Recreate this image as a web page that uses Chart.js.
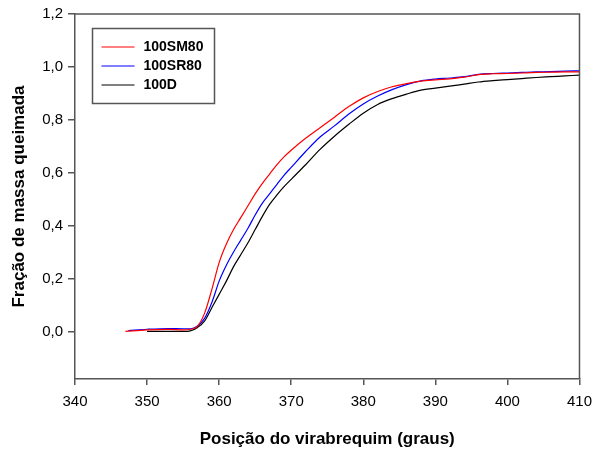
<!DOCTYPE html>
<html>
<head>
<meta charset="utf-8">
<script src="https://cdn.jsdelivr.net/npm/chart.js@4"></script>
<style>
  html, body { margin: 0; padding: 0; background: #fff; }
  #wrap { width: 600px; height: 450px; }
</style>
</head>
<body>
<div id="wrap"><canvas id="burnChart" width="600" height="450"></canvas></div>
<script>
// crank angle (deg) and burned mass fraction
const angSM80 = [347, 350, 353, 355, 356, 357, 358, 359, 360, 361, 362, 363, 364, 365, 366, 367, 368, 369, 370, 372, 374, 376, 378, 380, 382, 384, 386, 388, 390, 392, 394, 396, 398, 400, 402, 404, 406, 408, 410];
const fracSM80 = [0.0, 0.006, 0.008, 0.006, 0.008, 0.02, 0.07, 0.16, 0.26, 0.33, 0.385, 0.43, 0.475, 0.52, 0.56, 0.595, 0.63, 0.66, 0.685, 0.73, 0.77, 0.81, 0.85, 0.883, 0.907, 0.925, 0.937, 0.946, 0.951, 0.955, 0.961, 0.971, 0.974, 0.975, 0.977, 0.979, 0.980, 0.981, 0.981];

const angSR80 = [347.4, 350, 353, 355, 356, 357, 358, 359, 360, 361, 362, 363, 364, 365, 366, 367, 368, 369, 370, 372, 374, 376, 378, 380, 382, 384, 386, 388, 390, 392, 394, 396, 398, 400, 402, 404, 406, 408, 410];
const fracSR80 = [0.003, 0.008, 0.011, 0.01, 0.01, 0.02, 0.05, 0.11, 0.19, 0.25, 0.30, 0.345, 0.39, 0.44, 0.485, 0.52, 0.555, 0.59, 0.62, 0.68, 0.735, 0.777, 0.822, 0.86, 0.89, 0.914, 0.933, 0.947, 0.954, 0.958, 0.963, 0.972, 0.975, 0.977, 0.979, 0.981, 0.982, 0.984, 0.985];

const angD = [350, 353, 355, 356, 357, 358, 359, 360, 361, 362, 363, 364, 365, 366, 367, 368, 369, 370, 372, 374, 376, 378, 380, 382, 384, 386, 388, 390, 392, 394, 396, 398, 400, 402, 404, 406, 408, 410];
const fracD = [0.0, 0.0, 0.0, 0.002, 0.015, 0.04, 0.09, 0.14, 0.19, 0.245, 0.29, 0.335, 0.385, 0.435, 0.48, 0.515, 0.547, 0.575, 0.63, 0.688, 0.738, 0.783, 0.825, 0.858, 0.88, 0.897, 0.912, 0.92, 0.927, 0.935, 0.943, 0.948, 0.952, 0.956, 0.96, 0.963, 0.966, 0.969];

const seriesNames = ['100SM80', '100SR80', '100D'];
const seriesColors = ['#ff0000', '#0000ff', '#000000'];
const xTicks = [340, 350, 360, 370, 380, 390, 400, 410];
const yTicks = [0, 0.2, 0.4, 0.6, 0.8, 1.0, 1.2];

const axisColor = '#555555';
const fontFamily = '"Liberation Sans", Arial, sans-serif';

function pairs(xs, ys) {
  return xs.map((x, i) => ({ x: x, y: ys[i] }));
}

// box round the plot and the legend drawn in the top-left corner
const framePlugin = {
  id: 'frame',
  afterDatasetsDraw(chart) {
    const { ctx, chartArea: a } = chart;
    ctx.save();
    ctx.strokeStyle = axisColor;
    ctx.lineWidth = 1.5;
    ctx.beginPath();
    ctx.moveTo(a.left, a.top);
    ctx.lineTo(a.right, a.top);
    ctx.lineTo(a.right, a.bottom);
    ctx.stroke();

    const bx = a.left + 17.5, by = a.top + 14.5, bw = 122, bh = 75;
    ctx.fillStyle = '#fff';
    ctx.fillRect(bx, by, bw, bh);
    ctx.strokeStyle = '#555';
    ctx.lineWidth = 1.5;
    ctx.strokeRect(bx, by, bw, bh);
    ctx.font = 'bold 14px ' + fontFamily;
    ctx.textBaseline = 'middle';
    chart.data.datasets.forEach((ds, i) => {
      const y = by + 18.5 + i * 19;
      ctx.strokeStyle = ds.borderColor;
      ctx.lineWidth = 1;
      ctx.beginPath();
      ctx.moveTo(bx + 9, y);
      ctx.lineTo(bx + 42, y);
      ctx.stroke();
      ctx.fillStyle = '#000';
      ctx.fillText(ds.label, bx + 51, y);
    });
    ctx.restore();
  }
};

const ctx = document.getElementById('burnChart').getContext('2d');

const chart = new Chart(ctx, {
  type: 'line',
  data: {
    datasets: [
      { label: seriesNames[0], data: pairs(angSM80, fracSM80), borderColor: seriesColors[0] },
      { label: seriesNames[1], data: pairs(angSR80, fracSR80), borderColor: seriesColors[1] },
      { label: seriesNames[2], data: pairs(angD, fracD), borderColor: seriesColors[2] }
    ]
  },
  options: {
    responsive: false,
    animation: false,
    layout: { padding: { top: 14, right: 18, bottom: 0, left: 0 } },
    elements: {
      point: { radius: 0 },
      line: { borderWidth: 1.2, cubicInterpolationMode: 'monotone', fill: false }
    },
    plugins: {
      legend: { display: false },
      tooltip: { enabled: false }
    },
    scales: {
      x: {
        type: 'linear',
        min: 340,
        max: 410,
        afterBuildTicks(scale) { scale.ticks = xTicks.map(v => ({ value: v })); },
        afterFit(scale) { scale.height = 71; },
        border: { color: axisColor, width: 1.5 },
        grid: { drawOnChartArea: false, color: axisColor, lineWidth: 1.5, tickLength: 6 },
        ticks: {
          color: '#000',
          padding: 8,
          maxRotation: 0,
          font: { family: fontFamily, size: 15 }
        },
        title: {
          display: true,
          text: 'Posição do virabrequim (graus)',
          color: '#000',
          padding: { top: 12, bottom: 0 },
          font: { family: fontFamily, size: 17, weight: 'bold' }
        }
      },
      y: {
        type: 'linear',
        min: -0.18,
        max: 1.2,
        afterBuildTicks(scale) { scale.ticks = yTicks.map(v => ({ value: v })); },
        afterFit(scale) { scale.width = 75; },
        border: { color: axisColor, width: 1.5 },
        grid: { drawOnChartArea: false, color: axisColor, lineWidth: 1.5, tickLength: 7 },
        ticks: {
          color: '#000',
          padding: 5,
          font: { family: fontFamily, size: 15 },
          callback: v => v.toFixed(1).replace('.', ',')
        },
        title: {
          display: true,
          text: 'Fração de massa queimada',
          color: '#000',
          padding: { top: 9, bottom: 0 },
          font: { family: fontFamily, size: 17, weight: 'bold' }
        }
      }
    }
  },
  plugins: [framePlugin]
});
</script>
</body>
</html>
